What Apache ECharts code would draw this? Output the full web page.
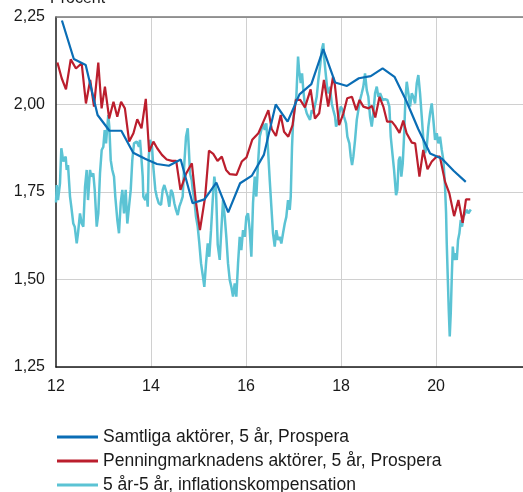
<!DOCTYPE html>
<html><head><meta charset="utf-8">
<script src="https://cdn.jsdelivr.net/npm/echarts@6/dist/echarts.min.js"></script>
<style>html,body{margin:0;padding:0;background:#fff}#c{width:523px;height:492px}</style>
</head><body><div id="c"></div>
<script>
const seriesNames = ["Samtliga aktörer, 5 år, Prospera", "Penningmarknadens aktörer, 5 år, Prospera", "5 år-5 år, inflationskompensation"];
const xTicks = [12, 14, 16, 18, 20];
const yTicks = [1.25, 1.50, 1.75, 2.00, 2.25];

const samtligaDates = [12.125,12.375,12.625,12.875,13.125,13.375,13.625,13.875,14.125,14.375,14.625,14.875,15.125,15.375,15.625,15.875,16.125,16.375,16.625,16.875,17.125,17.375,17.625,17.875,18.125,18.375,18.625,18.875,19.125,19.375,19.625,19.875,20.125,20.375,20.625];
const samtligaValues = [2.24,2.13,2.113,1.97,1.925,1.925,1.862,1.845,1.83,1.825,1.843,1.718,1.729,1.777,1.692,1.775,1.797,1.856,2.0,1.951,2.029,2.058,2.158,2.063,2.053,2.075,2.081,2.103,2.079,2.01,1.93,1.86,1.845,1.81,1.779];

const penningDates = [12.03,12.12,12.21,12.31,12.42,12.54,12.63,12.72,12.80,12.89,12.96,13.03,13.12,13.21,13.29,13.37,13.45,13.54,13.63,13.71,13.80,13.89,13.96,14.05,14.13,14.23,14.33,14.44,14.53,14.62,14.74,14.86,14.94,15.03,15.14,15.22,15.31,15.40,15.49,15.58,15.66,15.80,15.91,16.01,16.13,16.26,16.35,16.47,16.54,16.63,16.73,16.80,16.89,16.98,17.05,17.14,17.24,17.36,17.45,17.54,17.64,17.73,17.83,17.87,17.96,18.05,18.13,18.23,18.32,18.39,18.47,18.58,18.65,18.72,18.81,18.89,18.97,19.07,19.14,19.23,19.31,19.38,19.49,19.56,19.65,19.73,19.82,19.91,20.01,20.08,20.19,20.28,20.38,20.47,20.56,20.63,20.72];
const penningValues = [2.12,2.075,2.043,2.129,2.103,2.118,2.003,2.07,1.994,2.12,1.989,2.051,1.96,2.008,1.965,2.008,1.989,1.894,1.918,1.958,1.932,2.016,1.865,1.894,1.875,1.856,1.843,1.839,1.839,1.756,1.803,1.832,1.727,1.641,1.737,1.868,1.859,1.839,1.851,1.813,1.801,1.799,1.837,1.849,1.899,1.918,1.946,1.984,1.93,1.91,1.97,1.922,1.908,1.941,2.013,2.013,1.992,2.043,1.96,1.975,2.07,1.994,2.079,2.056,1.941,1.975,2.018,2.022,1.984,2.013,1.994,1.989,1.996,1.963,2.022,1.994,1.951,1.951,1.939,1.919,1.954,1.918,1.891,1.889,1.794,1.87,1.815,1.837,1.851,1.851,1.779,1.746,1.681,1.727,1.662,1.729,1.729];

const inflDates = [12.0,12.015,12.042,12.084,12.112,12.154,12.204,12.225,12.253,12.295,12.322,12.364,12.394,12.436,12.463,12.505,12.541,12.575,12.611,12.646,12.674,12.716,12.743,12.785,12.815,12.857,12.891,12.926,12.962,12.996,13.025,13.053,13.080,13.101,13.122,13.152,13.185,13.221,13.248,13.291,13.326,13.362,13.396,13.432,13.467,13.501,13.537,13.573,13.606,13.642,13.699,13.747,13.768,13.796,13.825,13.838,13.880,13.909,13.931,13.952,13.979,14.021,14.048,14.091,14.120,14.162,14.211,14.246,14.280,14.316,14.352,14.385,14.421,14.457,14.491,14.526,14.562,14.596,14.632,14.667,14.701,14.737,14.773,14.794,14.821,14.857,14.878,14.912,14.947,14.983,15.017,15.053,15.088,15.122,15.158,15.194,15.227,15.263,15.299,15.333,15.368,15.404,15.446,15.480,15.516,15.552,15.585,15.621,15.657,15.691,15.726,15.762,15.796,15.832,15.867,15.901,15.937,15.973,16.006,16.042,16.078,16.112,16.147,16.183,16.217,16.253,16.288,16.322,16.358,16.394,16.427,16.463,16.499,16.533,16.568,16.604,16.638,16.674,16.709,16.743,16.779,16.815,16.848,16.884,16.920,16.941,16.968,16.989,17.025,17.059,17.095,17.116,17.152,17.179,17.206,17.242,17.278,17.312,17.347,17.383,17.417,17.453,17.488,17.522,17.558,17.594,17.627,17.642,17.684,17.712,17.741,17.768,17.804,17.838,17.874,17.895,17.922,17.964,17.994,18.036,18.063,18.105,18.133,18.175,18.204,18.232,18.259,18.295,18.331,18.364,18.400,18.436,18.469,18.505,18.541,18.575,18.611,18.646,18.680,18.716,18.752,18.785,18.821,18.878,18.926,18.975,19.017,19.046,19.088,19.116,19.158,19.185,19.215,19.242,19.269,19.299,19.326,19.354,19.383,19.417,19.453,19.488,19.522,19.558,19.594,19.627,19.663,19.699,19.733,19.768,19.804,19.838,19.874,19.909,19.943,19.979,20.015,20.048,20.084,20.120,20.154,20.189,20.211,20.225,20.246,20.267,20.288,20.309,20.331,20.352,20.379,20.406,20.436,20.463,20.491,20.520,20.547,20.575,20.611,20.646,20.680,20.731];
const inflValues = [1.72,1.77,1.727,1.775,1.875,1.837,1.851,1.813,1.827,1.737,1.708,1.66,1.651,1.603,1.632,1.689,1.66,1.651,1.765,1.813,1.727,1.813,1.794,1.803,1.756,1.651,1.689,1.803,1.87,1.879,1.927,1.889,1.937,1.97,1.937,1.841,1.813,1.794,1.737,1.67,1.632,1.718,1.756,1.689,1.756,1.66,1.708,1.756,1.841,1.889,1.894,1.879,1.899,1.851,1.794,1.737,1.727,1.746,1.708,1.851,1.899,1.879,1.822,1.756,1.737,1.718,1.713,1.756,1.77,1.775,1.737,1.708,1.756,1.746,1.718,1.699,1.684,1.708,1.722,1.737,1.832,1.908,1.932,1.879,1.803,1.784,1.756,1.727,1.679,1.651,1.603,1.546,1.513,1.479,1.546,1.603,1.565,1.641,1.727,1.794,1.756,1.6,1.556,1.641,1.727,1.679,1.622,1.546,1.499,1.479,1.451,1.489,1.451,1.546,1.622,1.584,1.641,1.622,1.679,1.689,1.641,1.565,1.718,1.794,1.737,1.832,1.908,1.927,1.946,1.927,1.946,1.87,1.784,1.708,1.632,1.594,1.641,1.613,1.622,1.603,1.632,1.66,1.679,1.727,1.699,1.737,1.879,1.946,1.994,2.022,2.137,2.099,2.061,2.089,2.041,1.994,1.975,1.965,1.956,1.984,1.975,1.975,2.022,2.07,2.108,2.156,2.175,2.137,2.079,2.041,2.032,2.051,2.003,1.984,1.965,1.937,1.946,1.975,1.994,1.984,1.965,1.946,1.908,1.889,1.851,1.827,1.851,1.899,1.956,1.984,2.013,2.032,2.051,2.089,2.041,2.022,1.965,1.937,1.975,2.032,2.051,2.022,2.032,2.013,2.015,2.013,1.994,1.908,1.851,1.813,1.741,1.756,1.841,1.851,1.794,1.832,1.908,2.013,2.065,2.032,1.994,2.032,2.022,2.003,2.061,2.084,2.032,1.965,1.899,1.861,1.879,1.937,1.975,2.003,1.956,1.899,1.918,1.889,1.908,1.87,1.841,1.765,1.689,1.603,1.508,1.413,1.337,1.403,1.508,1.594,1.556,1.575,1.556,1.613,1.632,1.67,1.651,1.679,1.689,1.699,1.689,1.70];

const zip = (xs, ys) => xs.map((x, i) => [x, ys[i]]);
const FONT = "Liberation Sans";
const chart = echarts.init(document.getElementById('c'));
chart.setOption({
  animation: false,
  textStyle: { fontFamily: FONT },
  graphic: [{ type: 'text', left: 50, top: -9, style: { text: 'Procent', font: '16px "Liberation Sans"', fill: '#1a1a1a' } }],
  grid: { left: 56, right: 0, top: 17, height: 350, containLabel: false, outerBoundsMode: 'none' },
  xAxis: [{
    type: 'value', min: 12, max: 21.83, interval: 2,
    axisLine: { show: true, onZero: false, lineStyle: { color: '#1a1a1a', width: 1.5 } },
    axisTick: { show: false },
    axisLabel: { color: '#1a1a1a', fontSize: 16, margin: 12, fontFamily: FONT,
      formatter: v => xTicks.includes(v) ? String(v) : '' },
    splitLine: { show: true, showMinLine: false, showMaxLine: false, lineStyle: { color: '#d0d0d0', width: 1 } }
  }, {
    type: 'value', position: 'top', min: 12, max: 21.83,
    axisLine: { show: true, lineStyle: { color: '#7a7a7a', width: 1.5 } },
    axisTick: { show: false }, axisLabel: { show: false }, splitLine: { show: false }
  }],
  yAxis: {
    type: 'value', min: 1.25, max: 2.25, interval: 0.25,
    axisLine: { show: true, lineStyle: { color: '#1a1a1a', width: 1.5 } },
    axisTick: { show: false },
    axisLabel: { color: '#1a1a1a', fontSize: 16, margin: 11, fontFamily: FONT,
      formatter: v => v.toFixed(2).replace('.', ',') },
    splitLine: { show: true, lineStyle: { color: '#d0d0d0', width: 1 } }
  },
  legend: {
    orient: 'vertical', left: 57, top: 428, height: 80, width: 460, padding: 0,
    icon: 'rect', itemWidth: 41, itemHeight: 3, itemGap: 6,
    textStyle: { fontSize: 17.5, color: '#1a1a1a', fontFamily: FONT, lineHeight: 18 },
    data: seriesNames
  },
  series: [
    { name: seriesNames[2], type: 'line', symbol: 'none', data: zip(inflDates, inflValues),
      lineStyle: { color: '#5bc3d4', width: 2.5 }, itemStyle: { color: '#5bc3d4' }, z: 1 },
    { name: seriesNames[1], type: 'line', symbol: 'none', data: zip(penningDates, penningValues),
      lineStyle: { color: '#bb1e2d', width: 2.2 }, itemStyle: { color: '#bb1e2d' }, z: 2 },
    { name: seriesNames[0], type: 'line', symbol: 'none', data: zip(samtligaDates, samtligaValues),
      lineStyle: { color: '#0a6db5', width: 2.2 }, itemStyle: { color: '#0a6db5' }, z: 3 }
  ]
});
</script></body></html>
